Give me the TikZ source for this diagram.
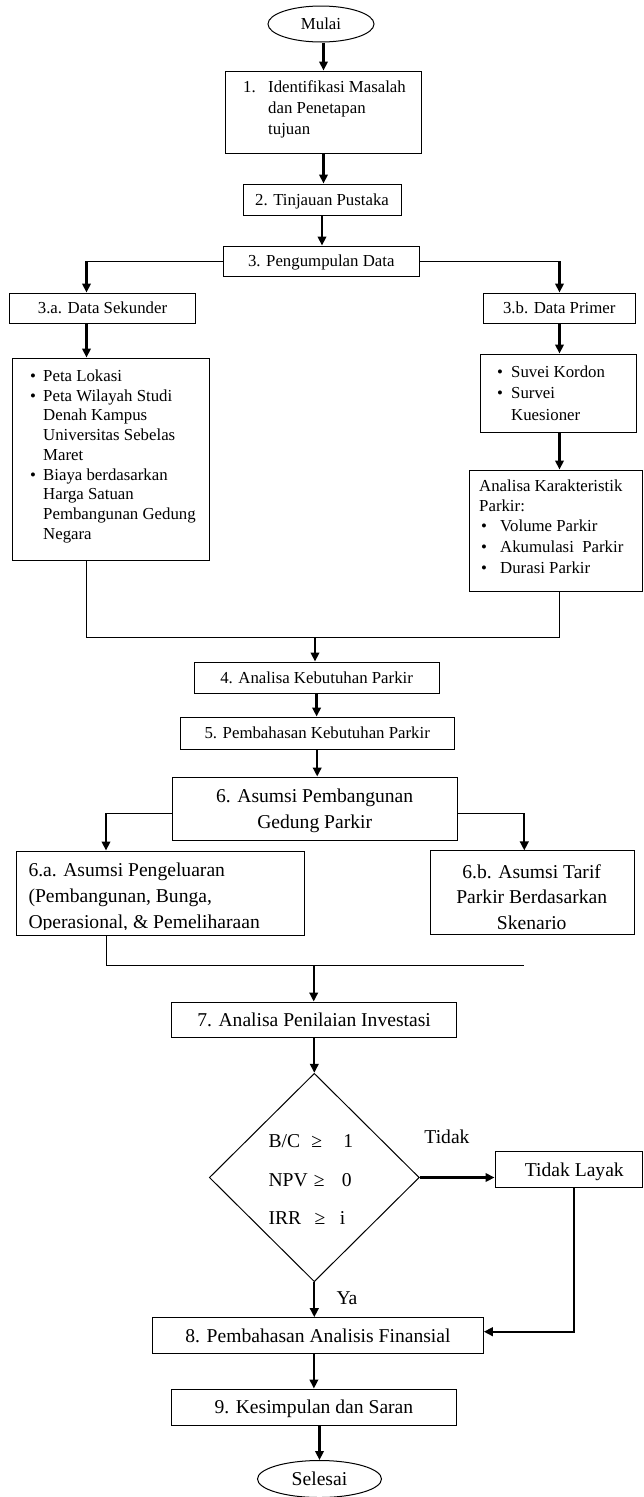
\documentclass[tikz,border=0pt]{standalone}
\usepackage{fontspec}
\setmainfont{Liberation Serif}
\usetikzlibrary{arrows.meta,shapes.geometric}
\newcommand\fsA{\fontsize{16.8}{19.7}\selectfont}
\newcommand\fsB{\fontsize{19.6}{26}\selectfont}
\begin{document}
\begin{tikzpicture}[x=1pt,y=-1pt,
  box/.style={draw, line width=1pt, inner sep=0pt},
  boxA/.style={box, font=\fsA, text height=11.2pt, text depth=0pt},
  boxB/.style={box, font=\fsB, text height=13pt, text depth=0pt},
  arr/.style={line width=2.3pt, -{Triangle[length=9pt,width=8.5pt]}},
  thinl/.style={line width=1pt},
  tA/.style={anchor=base west, inner sep=0pt, font=\fsA},
  tB/.style={anchor=base west, inner sep=0pt, font=\fsB},
  bulA/.style={anchor=base, inner sep=0pt, font=\fsA},
  cB/.style={anchor=base, inner sep=0pt, font=\fsB},
]
\useasboundingbox (0,0) rectangle (643,1497);

% ---------- top ----------
\node[draw, ellipse, line width=1pt, minimum width=106pt, minimum height=36pt,
      inner sep=0pt, font=\fsA, text height=11.2pt, text depth=0pt] (mulai) at (321,24) {Mulai};

\node[box, minimum width=196pt, minimum height=82pt] (b1) at (323.5,112) {};
\node[tA] (b1n) at (243,92.3) {1.};
\node[tA] (b1a) at (268,92.3) {Identifikasi Masalah};
\node[tA] (b1b) at (268,113.3) {dan Penetapan};
\node[tA] (b1c) at (268,134.5) {tujuan};

\node[boxA, minimum width=158pt, minimum height=31pt] (b2) at (322,199.5) {2. Tinjauan Pustaka};
\node[boxA, minimum width=195.5pt, minimum height=30pt] (b3) at (321.25,261) {3. Pengumpulan Data};

\node[boxA, minimum width=186.2pt, minimum height=30pt] (b3a) at (102.5,308) {3.a. Data Sekunder};
\node[boxA, minimum width=152.5pt, minimum height=30pt] (b3b) at (559.25,308) {3.b. Data Primer};

\coordinate (j3a) at (86.5,261);
\coordinate (j3b) at (559.5,261);

% ---------- left list ----------
\node[box, minimum width=196.5pt, minimum height=202pt] (l3a) at (110.75,459) {};
\foreach \t [count=\i from 0] in {Peta Lokasi, Peta Wilayah Studi, Denah Kampus,
   Universitas Sebelas, Maret, Biaya berdasarkan, Harga Satuan, Pembangunan Gedung, Negara}
  \node[tA] (l3at\i) at (43,381.5+19.7*\i) {\t};
\foreach \i in {0,1,5}
  \node[bulA] (l3ab\i) at (33,381.5+19.7*\i) {\textbullet};

% ---------- right lists ----------
\node[box, minimum width=155.5pt, minimum height=78pt] (l3b) at (558.25,393) {};
\node[tA] (l3bt0) at (511,377.2) {Suvei Kordon};
\node[tA] (l3bt1) at (511,398.8) {Survei};
\node[tA] (l3bt2) at (511,420.5) {Kuesioner};
\node[bulA] (l3bb0) at (500,377.2) {\textbullet};
\node[bulA] (l3bb1) at (500,398.8) {\textbullet};

\node[box, minimum width=173.5pt, minimum height=121pt] (ak) at (555.75,530.5) {};
\node[tA] (akt0) at (479,491) {Analisa Karakteristik};
\node[tA] (akt1) at (479,511.5) {Parkir:};
\node[tA] (akt2) at (500,531.8) {Volume Parkir};
\node[tA] (akt3) at (500,552.6) {Akumulasi\ \ Parkir};
\node[tA] (akt4) at (500,573.4) {Durasi Parkir};
\node[bulA] (akb2) at (484,531.8) {\textbullet};
\node[bulA] (akb3) at (484,552.6) {\textbullet};
\node[bulA] (akb4) at (484,573.4) {\textbullet};

\coordinate (mL) at (86.5,637);
\coordinate (mR) at (559.5,637);
\coordinate (mC) at (315,637);

% ---------- middle ----------
\node[boxA, minimum width=245.2pt, minimum height=31pt] (b4) at (316.6,677.5) {4. Analisa Kebutuhan Parkir};
\node[boxA, minimum width=273.6pt, minimum height=32pt] (b5) at (317.2,733) {5. Pembahasan Kebutuhan Parkir};
\node[box, minimum width=284.7pt, minimum height=63pt] (b6) at (314.85,808.5) {};
\node[cB] (t6l1) at (314.7,802.5) {6. Asumsi Pembangunan};
\node[cB] (t6l2) at (314.7,828.5) {Gedung Parkir};

\coordinate (j6a) at (106,813);
\coordinate (j6b) at (524.3,813);

\node[box, minimum width=287.9pt, minimum height=84pt] (b6a) at (160.35,893) {};
\begin{scope}
  \clip (16.4,851) rectangle (304.3,929.2);
  \node[tB] (t6a1) at (28.3,876.3) {6.a. Asumsi Pengeluaran};
  \node[tB] (t6a2) at (28.3,902.2) {(Pembangunan, Bunga,};
  \node[tB] (t6a3) at (28.3,928.1) {Operasional, \& Pemeliharaan};
\end{scope}

\node[box, minimum width=204pt, minimum height=83.3pt] (b6b) at (532,892.6) {};
\node[cB] (t6b1) at (531.7,878.2) {6.b. Asumsi Tarif};
\node[cB] (t6b2) at (531.7,903.2) {Parkir Berdasarkan};
\node[cB] (t6b3) at (531.7,929) {Skenario};

\coordinate (m2L) at (106,965.5);
\coordinate (m2R) at (524.3,965.5);
\coordinate (m2C) at (313.7,965.5);

\node[boxB, minimum width=284.6pt, minimum height=35pt] (b7) at (314.1,1019.5) {7. Analisa Penilaian Investasi};

% ---------- decision ----------
\node[draw, diamond, line width=1pt, minimum width=210pt, minimum height=208.4pt, inner sep=0pt] (dia) at (314.3,1177.5) {};
\node[tB] (dBC) at (268.3,1147.5) {B/C};
\node[cB] (dg1) at (316.7,1147.5) {≥};
\node[cB] (dv1) at (348.3,1147.5) {1};
\node[tB] (dNPV) at (268.3,1186.5) {NPV};
\node[cB] (dg2) at (319.3,1186.5) {≥};
\node[cB] (dv2) at (346.7,1186.5) {0};
\node[tB] (dIRR) at (268.3,1224.8) {IRR};
\node[cB] (dg3) at (320,1224.8) {≥};
\node[cB] (dv3) at (342.7,1224.8) {i};

\node[cB] (tidak) at (447,1143.8) {Tidak};
\node[cB] (ya) at (347,1304.2) {Ya};

\node[box, minimum width=147.5pt, minimum height=36.3pt] (tl) at (568.75,1169.2) {};
\node[cB] (tlt) at (574.3,1176.5) {Tidak Layak};
\coordinate (tlc) at (574,1331.7);

\node[boxB, minimum width=330.6pt, minimum height=35.6pt] (b8) at (318,1335.5) {8. Pembahasan Analisis Finansial};
\node[boxB, minimum width=285pt, minimum height=36pt] (b9) at (313.9,1407) {9. Kesimpulan dan Saran};
\node[draw, ellipse, line width=1pt, minimum width=124pt, minimum height=37pt,
      inner sep=0pt, font=\fsB, text height=13pt, text depth=0pt] (selesai) at (319.5,1479) {Selesai};

% ---------- connectors ----------
\draw[arr] (mulai.south -| b1.north) -- (b1.north);
\draw[arr] (b1.south) -- (b1.south |- b2.north);
\draw[arr] (b2.south) -- (b2.south |- b3.north);

\draw[thinl] (b3.west) -- (j3a);
\draw[arr] (j3a) -- (j3a |- b3a.north);
\draw[thinl] (b3.east) -- (j3b);
\draw[arr] (j3b) -- (j3b |- b3b.north);

\draw[arr] (j3a |- b3a.south) -- (j3a |- l3a.north);
\draw[arr] (j3b |- b3b.south) -- (j3b |- l3b.north);
\draw[arr] (j3b |- l3b.south) -- (j3b |- ak.north);

\draw[thinl] (j3a |- l3a.south) -- (mL) -- (mR) -- (j3b |- ak.south);
\draw[arr] (mC) -- (mC |- b4.north);

\draw[arr] (b4.south) -- (b4.south |- b5.north);
\draw[arr] (b5.south) -- (b5.south |- b6.north);

\draw[thinl] (b6.west |- j6a) -- (j6a);
\draw[arr] (j6a) -- (j6a |- b6a.north);
\draw[thinl] (b6.east |- j6b) -- (j6b);
\draw[arr] (j6b) -- (j6b |- b6b.north);

\draw[thinl] (j6a |- b6a.south) -- (m2L) -- (m2R);
\draw[arr] (m2C) -- (m2C |- b7.north);

\draw[arr] (b7.south -| dia.north) -- (dia.north);
\draw[arr] (dia.east) -- (dia.east -| tl.west);
\draw[arr] (dia.south) -- (dia.south |- b8.north);
\draw[arr] (tlc |- tl.south) -- (tlc) -- (tlc -| b8.east);

\draw[arr] (b8.south -| b9.north) -- (b9.north);
\draw[arr] (b9.south -| selesai.north) -- (selesai.north);
\end{tikzpicture}
\end{document}
